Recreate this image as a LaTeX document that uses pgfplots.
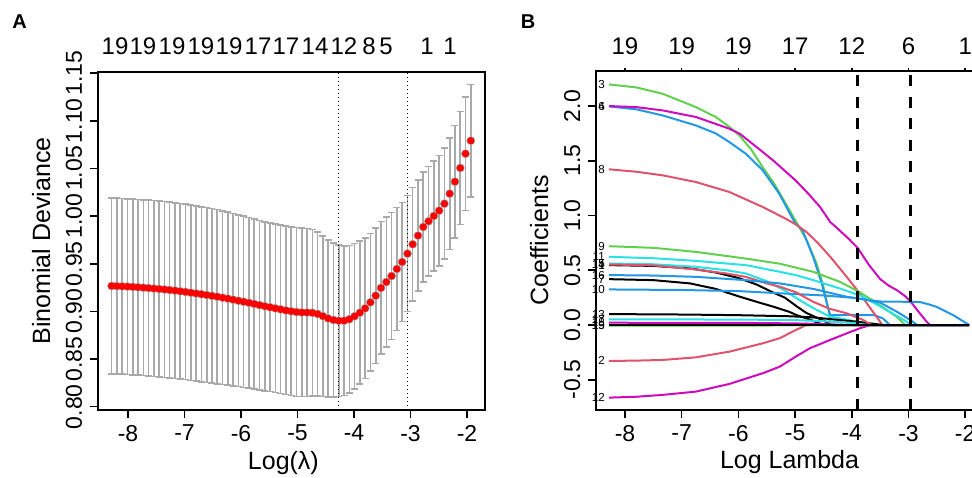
\documentclass[border=0pt]{standalone}
\usepackage{pgfplots}
\pgfplotsset{compat=1.18}
\usepackage{pgfplotstable}
\usepackage{fontspec}
\setmainfont{Liberation Sans}
\definecolor{Rred}{HTML}{DF536B}
\definecolor{Rgreen}{HTML}{61D04F}
\definecolor{Rblue}{HTML}{2297E6}
\definecolor{Rcyan}{HTML}{28E2E5}
\definecolor{Rmag}{HTML}{CD0BBC}
\definecolor{errgray}{HTML}{A9A9A9}
\pgfplotstableread{
x y se
-8.290 0.9267 0.0922
-8.197 0.9265 0.0922
-8.103 0.9263 0.0922
-8.010 0.9260 0.0922
-7.916 0.9257 0.0922
-7.823 0.9253 0.0922
-7.729 0.9249 0.0922
-7.636 0.9245 0.0922
-7.542 0.9240 0.0922
-7.449 0.9235 0.0922
-7.355 0.9230 0.0922
-7.262 0.9224 0.0922
-7.168 0.9218 0.0921
-7.075 0.9211 0.0921
-6.981 0.9204 0.0920
-6.888 0.9196 0.0920
-6.794 0.9188 0.0919
-6.701 0.9180 0.0918
-6.607 0.9172 0.0918
-6.514 0.9163 0.0917
-6.420 0.9154 0.0915
-6.327 0.9144 0.0912
-6.233 0.9134 0.0909
-6.140 0.9123 0.0906
-6.046 0.9112 0.0902
-5.953 0.9101 0.0898
-5.859 0.9090 0.0895
-5.766 0.9078 0.0892
-5.672 0.9066 0.0889
-5.579 0.9054 0.0887
-5.485 0.9043 0.0885
-5.392 0.9032 0.0884
-5.298 0.9021 0.0884
-5.205 0.9010 0.0884
-5.111 0.9001 0.0885
-5.018 0.8993 0.0886
-4.924 0.8989 0.0884
-4.831 0.8988 0.0880
-4.737 0.8985 0.0873
-4.644 0.8973 0.0860
-4.550 0.8950 0.0842
-4.457 0.8926 0.0825
-4.363 0.8910 0.0808
-4.270 0.8902 0.0796
-4.176 0.8902 0.0785
-4.083 0.8917 0.0776
-3.989 0.8949 0.0762
-3.896 0.8986 0.0750
-3.802 0.9032 0.0735
-3.709 0.9095 0.0722
-3.615 0.9165 0.0710
-3.522 0.9246 0.0696
-3.428 0.9308 0.0680
-3.335 0.9371 0.0665
-3.241 0.9445 0.0645
-3.148 0.9518 0.0626
-3.054 0.9606 0.0609
-2.961 0.9704 0.0594
-2.867 0.9795 0.0582
-2.774 0.9886 0.0577
-2.680 0.9946 0.0575
-2.587 1.0001 0.0578
-2.493 1.0057 0.0579
-2.400 1.0130 0.0582
-2.306 1.0235 0.0585
-2.213 1.0361 0.0590
-2.119 1.0505 0.0594
-2.026 1.0655 0.0597
-1.932 1.0791 0.0591
}\cvdata
\begin{document}
\begin{tikzpicture}
\pgfplotsset{
  rstyle/.style={
    scale only axis, anchor=south west, clip=false,
    axis line style={line width=0.9pt, black},
    tick align=outside, major tick length=4pt,
    tick style={line width=0.8pt, black},
    xtick pos=left, ytick pos=left,
    /pgf/number format/assume math mode=true,
    tick label style={font=\fontsize{11.5}{13}\selectfont},
    label style={font=\fontsize{12.5}{14}\selectfont},
    yticklabel shift=4pt,
  }
}
% ---------------- Panel A ----------------
\begin{axis}[rstyle,
  at={(49pt,33.5pt)}, width=193.5pt, height=169pt,
  xmin=-8.531, xmax=-1.681, ymin=0.7965, ymax=1.1512,
  xtick={-8,-7,-6,-5,-4,-3,-2},
  ytick={0.80,0.85,0.90,0.95,1.00,1.05,1.10,1.15},
  yticklabel style={rotate=90, anchor=base, /pgf/number format/.cd, fixed, fixed zerofill, precision=2},
  xlabel={Log(λ)}, ylabel={Binomial Deviance},
  xlabel style={at={(axis description cs:0.479,-0.1746)}, anchor=base},
  ylabel style={at={(axis description cs:-0.124,0.5)}, anchor=base},
]
\addplot[only marks, mark=none, color=errgray,
  error bars/.cd, y dir=both, y explicit, error mark=-,
  error bar style={color=errgray, line width=0.8pt},
  error mark options={color=errgray, line width=0.8pt, mark size=1.75pt, rotate=90}]
  table[x=x, y=y, y error=se] {\cvdata};
\addplot[only marks, mark=*, mark size=1.6pt, color=red, fill=red, draw=none, mark options={draw=none, fill=red}]
  table[x=x, y=y] {\cvdata};
\addplot[black, line width=0.6pt, dash pattern=on 0.6pt off 1.4pt] coordinates {(-4.270,0.7965) (-4.270,1.1512)};
\addplot[black, line width=0.6pt, dash pattern=on 0.6pt off 1.4pt] coordinates {(-3.054,0.7965) (-3.054,1.1512)};
\begin{scope}[every node/.style={anchor=base, yshift=8.5pt, font=\fontsize{12}{14}\selectfont}]
\node at (axis cs:-8.230,1.1512) {19};
\node at (axis cs:-7.735,1.1512) {19};
\node at (axis cs:-7.221,1.1512) {19};
\node at (axis cs:-6.708,1.1512) {19};
\node at (axis cs:-6.212,1.1512) {19};
\node at (axis cs:-5.699,1.1512) {17};
\node at (axis cs:-5.204,1.1512) {17};
\node at (axis cs:-4.690,1.1512) {14};
\node at (axis cs:-4.177,1.1512) {12};
\node at (axis cs:-3.735,1.1512) {8};
\node at (axis cs:-3.434,1.1512) {5};
\node at (axis cs:-2.708,1.1512) {1};
\node at (axis cs:-2.301,1.1512) {1};
\end{scope}
\end{axis}
% ---------------- Panel B ----------------
\begin{axis}[rstyle,
  at={(298pt,33.5pt)}, width=193.5pt, height=169.5pt,
  xmin=-8.511, xmax=-1.686, ymin=-0.776, ymax=2.32,
  xtick={-8,-7,-6,-5,-4,-3,-2},
  ytick={-0.5,0,0.5,1,1.5,2},
  yticklabel style={rotate=90, anchor=base, /pgf/number format/.cd, fixed, fixed zerofill, precision=1},
  xlabel={Log Lambda}, ylabel={Coefficients},
  xlabel style={at={(axis description cs:0.5,-0.174)}, anchor=base},
  ylabel style={at={(axis description cs:-0.124,0.5)}, anchor=base},
  every axis plot/.append style={line width=1pt, line join=round},
]
% V1
\addplot[black] coordinates {(-8.28,0.547) (-7.5,0.54) (-6.85,0.517) (-6.4,0.48) (-6.0,0.43) (-5.68,0.37) (-5.4,0.30) (-5.18,0.25) (-4.97,0.17) (-4.8,0.11) (-4.65,0.075) (-4.5,0.04) (-4.35,0) (-1.93,0)};
% V2
\addplot[Rred] coordinates {(-8.28,-0.328) (-7.8,-0.325) (-7.335,-0.319) (-6.75,-0.295) (-6.16,-0.243) (-5.57,-0.167) (-5.27,-0.12) (-4.99,-0.046) (-4.80,0) (-1.93,0)};
% V3
\addplot[Rgreen] coordinates {(-8.28,2.197) (-7.8,2.17) (-7.335,2.112) (-6.75,1.99) (-6.4,1.90) (-6.16,1.81) (-5.98,1.73) (-5.77,1.60) (-5.57,1.44) (-5.38,1.30) (-5.2,1.14) (-5.0,0.96) (-4.8,0.78) (-4.62,0.56) (-4.5,0.35) (-4.41,0.137) (-4.37,0) (-1.93,0)};
% V4
\addplot[Rblue] coordinates {(-8.28,1.996) (-7.8,1.97) (-7.335,1.914) (-6.75,1.823) (-6.4,1.75) (-6.16,1.671) (-5.87,1.565) (-5.57,1.413) (-5.28,1.20) (-5.0,0.93) (-4.87,0.866) (-4.68,0.62) (-4.53,0.38) (-4.44,0.198) (-4.38,0.09) (-4.0,0.092) (-3.6,0.09) (-3.45,0.06) (-3.33,0) (-1.93,0)};
% V5
\addplot[Rcyan] coordinates {(-8.28,0.562) (-7.5,0.555) (-6.75,0.532) (-6.2,0.50) (-5.87,0.471) (-5.5,0.40) (-5.2,0.32) (-4.99,0.25) (-4.7,0.16) (-4.4,0.08) (-4.0,0.04) (-3.7,0.01) (-3.6,0) (-1.93,0)};
% V6
\addplot[Rmag] coordinates {(-8.28,2.0) (-7.8,1.99) (-7.335,1.96) (-6.75,1.90) (-6.16,1.793) (-5.97,1.745) (-5.57,1.58) (-5.38,1.50) (-4.99,1.32) (-4.75,1.19) (-4.56,1.078) (-4.38,0.94) (-4.27,0.89) (-4.06,0.79) (-3.89,0.70) (-3.70,0.55) (-3.50,0.42) (-3.35,0.36) (-3.21,0.32) (-3.05,0.26) (-2.94,0.198) (-2.80,0.107) (-2.68,0.03) (-2.62,0) (-1.93,0)};
% V7
\addplot[black] coordinates {(-8.28,0.419) (-7.5,0.41) (-6.85,0.38) (-6.4,0.33) (-5.97,0.258) (-5.6,0.2) (-5.38,0.167) (-5.1,0.12) (-4.97,0.09) (-4.74,0.05) (-4.5,0) (-1.93,0)};
% V8
\addplot[Rred] coordinates {(-8.28,1.422) (-7.8,1.40) (-7.335,1.367) (-6.75,1.306) (-6.16,1.215) (-5.57,1.078) (-5.2,0.98) (-4.99,0.92) (-4.8,0.85) (-4.6,0.75) (-4.38,0.623) (-4.09,0.44) (-3.86,0.289) (-3.65,0.137) (-3.50,0.03) (-3.47,0) (-1.93,0)};
% V9
\addplot[Rgreen] coordinates {(-8.28,0.72) (-7.5,0.705) (-6.75,0.668) (-5.87,0.607) (-5.27,0.56) (-4.68,0.486) (-4.21,0.395) (-3.86,0.30) (-3.50,0.18) (-3.21,0.076) (-3.06,0) (-1.93,0)};
% V10
\addplot[Rblue] coordinates {(-8.28,0.325) (-7,0.32) (-6,0.31) (-5.27,0.29) (-4.5,0.27) (-4.0,0.25) (-3.5,0.215) (-3.0,0.212) (-2.8,0.21) (-2.65,0.19) (-2.5,0.165) (-2.21,0.09) (-1.93,0)};
% V11
\addplot[Rcyan] coordinates {(-8.28,0.623) (-7.5,0.61) (-6.75,0.586) (-5.87,0.547) (-5.27,0.486) (-4.99,0.456) (-4.68,0.41) (-4.21,0.334) (-3.80,0.258) (-3.33,0.12) (-3.03,0.03) (-2.97,0) (-1.93,0)};
% V12
\addplot[Rmag] coordinates {(-8.28,-0.663) (-7.8,-0.655) (-7.335,-0.638) (-6.75,-0.608) (-6.16,-0.538) (-5.57,-0.44) (-5.27,-0.38) (-4.99,-0.289) (-4.74,-0.212) (-4.4,-0.14) (-4.09,-0.076) (-3.86,-0.03) (-3.68,0) (-1.93,0)};
% V13
\addplot[black] coordinates {(-8.28,0.10) (-7,0.096) (-6,0.09) (-5.09,0.08) (-4.68,0.07) (-4.3,0.05) (-3.91,0.03) (-3.6,0.01) (-3.44,0) (-1.93,0)};
% V14
\addplot[Rred] coordinates {(-8.28,0.553) (-7.5,0.545) (-6.75,0.507) (-6.2,0.47) (-5.87,0.44) (-5.5,0.38) (-5.27,0.35) (-4.99,0.30) (-4.68,0.212) (-4.4,0.15) (-4.09,0.107) (-3.80,0.046) (-3.65,0) (-1.93,0)};
% V15
\addplot[Rgreen] coordinates {(-8.28,-0.006) (-5,-0.004) (-4.5,0) (-1.93,0)};
% V16
\addplot[Rblue] coordinates {(-8.28,0.456) (-7.5,0.452) (-6.75,0.44) (-5.87,0.41) (-5.27,0.38) (-4.68,0.33) (-4.09,0.258) (-3.8,0.235) (-3.5,0.205) (-3.2,0.12) (-2.95,0.04) (-2.85,0) (-1.93,0)};
% V17
\addplot[Rcyan] coordinates {(-8.28,0.052) (-6,0.05) (-5,0.045) (-4.5,0.035) (-4.0,0.02) (-3.7,0) (-1.93,0)};
% V18
\addplot[Rmag] coordinates {(-8.28,0.021) (-6,0.02) (-5,0.015) (-4.5,0.008) (-4.0,0) (-1.93,0)};
% V19
\addplot[black] coordinates {(-8.28,0) (-1.93,0)};
% dashed lines
\addplot[black, line width=1.6pt, dash pattern=on 5.5pt off 5.3pt] coordinates {(-3.90,-0.776) (-3.90,2.32)};
\addplot[black, line width=1.6pt, dash pattern=on 5.5pt off 5.3pt] coordinates {(-2.96,-0.776) (-2.96,2.32)};
% top ticks
\draw[line width=0.8pt] (axis cs:-8,2.32) -- ([yshift=1.5pt]axis cs:-8,2.32);
\draw[line width=0.8pt] (axis cs:-7,2.32) -- ([yshift=1.5pt]axis cs:-7,2.32);
\draw[line width=0.8pt] (axis cs:-6,2.32) -- ([yshift=1.5pt]axis cs:-6,2.32);
\draw[line width=0.8pt] (axis cs:-5,2.32) -- ([yshift=1.5pt]axis cs:-5,2.32);
\draw[line width=0.8pt] (axis cs:-4,2.32) -- ([yshift=1.5pt]axis cs:-4,2.32);
\draw[line width=0.8pt] (axis cs:-3,2.32) -- ([yshift=1.5pt]axis cs:-3,2.32);
\draw[line width=0.8pt] (axis cs:-2,2.32) -- ([yshift=1.5pt]axis cs:-2,2.32);
\begin{scope}[every node/.style={anchor=base, yshift=8pt, font=\fontsize{12}{14}\selectfont}]
\node at (axis cs:-8,2.32) {19};
\node at (axis cs:-7,2.32) {19};
\node at (axis cs:-6,2.32) {19};
\node at (axis cs:-5,2.32) {17};
\node at (axis cs:-4,2.32) {12};
\node at (axis cs:-3,2.32) {6};
\node at (axis cs:-2,2.32) {1};
\end{scope}
\begin{scope}[every node/.style={anchor=east, inner sep=0pt, font=\fontsize{5.8}{6}\selectfont}]
\node at (axis cs:-8.35,2.197) {3};
\node at (axis cs:-8.35,2.0) {6};
\node at (axis cs:-8.35,2.0) {4};
\node at (axis cs:-8.35,1.422) {8};
\node at (axis cs:-8.35,0.72) {9};
\node at (axis cs:-8.35,0.623) {11};
\node at (axis cs:-8.35,0.562) {5};
\node at (axis cs:-8.35,0.553) {14};
\node at (axis cs:-8.35,0.547) {1};
\node at (axis cs:-8.35,0.456) {16};
\node at (axis cs:-8.35,0.419) {7};
\node at (axis cs:-8.35,0.325) {10};
\node at (axis cs:-8.35,0.10) {13};
\node at (axis cs:-8.35,0.052) {17};
\node at (axis cs:-8.35,0.021) {18};
\node at (axis cs:-8.35,0.0) {19};
\node at (axis cs:-8.35,-0.006) {15};
\node at (axis cs:-8.35,-0.328) {2};
\node at (axis cs:-8.35,-0.663) {12};
\end{scope}
\end{axis}
\node[font=\bfseries\fontsize{10}{12}\selectfont] at (9.85pt,227.5pt) {A};
\node[font=\bfseries\fontsize{10}{12}\selectfont] at (264pt,227.5pt) {B};
\pgfresetboundingbox
\path[use as bounding box] (0,0) rectangle (486pt,238.5pt);
\end{tikzpicture}
\end{document}
